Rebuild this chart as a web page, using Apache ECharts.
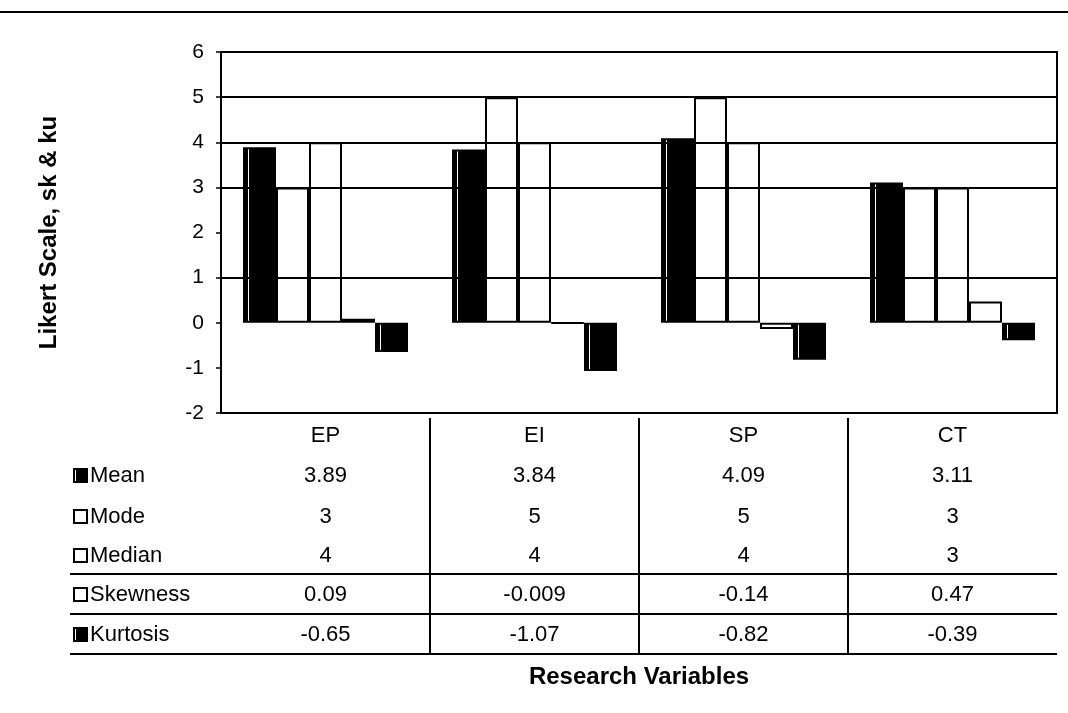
<!DOCTYPE html>
<html>
<head>
<meta charset="utf-8">
<script src="https://cdn.jsdelivr.net/npm/echarts@6/dist/echarts.min.js"></script>
<style>
  html, body { margin: 0; padding: 0; background: #ffffff; }
  #chart { width: 1068px; height: 713px; }
</style>
</head>
<body>
<div id="chart"></div>
<script>
// Research variables and their descriptive statistics
const categories = ['EP', 'EI', 'SP', 'CT'];
const meanValues = [3.89, 3.84, 4.09, 3.11];
const modeValues = [3, 5, 5, 3];
const medianValues = [4, 4, 4, 3];
const skewnessValues = [0.09, -0.009, -0.14, 0.47];
const kurtosisValues = [-0.65, -1.07, -0.82, -0.39];
const seriesNames = ['Mean', 'Mode', 'Median', 'Skewness', 'Kurtosis'];
const gridLineValues = [1, 3, 4, 5];

const FONT = '"Liberation Sans", Arial, Helvetica, sans-serif';
const INK = '#000000';

// Solid black fill with a thin light stripe near the left edge
const darkFill = {
  type: 'linear', x: 0, y: 0, x2: 1, y2: 0,
  colorStops: [
    { offset: 0, color: INK }, { offset: 0.14, color: INK },
    { offset: 0.14, color: '#ffffff' }, { offset: 0.18, color: '#ffffff' },
    { offset: 0.18, color: INK }, { offset: 1, color: INK }
  ]
};
const fills = [darkFill, '#ffffff', '#ffffff', '#ffffff', darkFill];
const valueSets = [meanValues, modeValues, medianValues, skewnessValues, kurtosisValues];

const chart = echarts.init(document.getElementById('chart'), null, { renderer: 'canvas' });

const barSeries = seriesNames.map((name, i) => ({
  name: name,
  type: 'bar',
  data: valueSets[i],
  barWidth: 33,
  barGap: '0%',
  z: 3,
  itemStyle: { color: fills[i], borderColor: INK, borderWidth: 2 }
}));

// Horizontal reference lines kept underneath the bars
const gridLineSeries = {
  name: 'gridlines',
  type: 'line',
  data: categories.map(() => null),
  z: 1,
  silent: true,
  symbol: 'none',
  markLine: {
    silent: true,
    symbol: 'none',
    label: { show: false },
    lineStyle: { color: INK, width: 2, type: 'solid' },
    data: gridLineValues.map(v => ({ yAxis: v }))
  }
};

chart.setOption({
  backgroundColor: '#ffffff',
  animation: false,
  textStyle: { fontFamily: FONT, color: INK },
  grid: {
    left: 221, right: 11, top: 52, bottom: 300,
    show: true, borderColor: INK, borderWidth: 2, backgroundColor: 'transparent'
  },
  xAxis: {
    type: 'category',
    data: categories,
    axisLine: { show: false },
    axisTick: { show: false },
    splitLine: { show: false },
    axisLabel: { fontSize: 22, color: INK, fontFamily: FONT, margin: 12 }
  },
  yAxis: {
    type: 'value',
    min: -2, max: 6, interval: 1,
    name: 'Likert Scale, sk & ku',
    nameLocation: 'middle',
    nameGap: 160,
    nameTextStyle: { fontSize: 24, fontWeight: 'bold', color: INK, fontFamily: FONT },
    axisLine: { show: true, lineStyle: { color: INK, width: 2 } },
    axisTick: { show: true, inside: false, length: 5, lineStyle: { color: INK, width: 1.5 } },
    splitLine: { show: false },
    axisLabel: { fontSize: 21, color: INK, fontFamily: FONT, margin: 17 }
  },
  legend: { show: false },
  series: [gridLineSeries].concat(barSeries)
});

// Data table under the plot, positioned from the category axis
function drawTable() {
  const xs = categories.map((c, i) => chart.convertToPixel({ xAxisIndex: 0 }, i));
  const gridRect = chart.getModel().getComponent('grid').coordinateSystem.getRect();
  const right = gridRect.x + gridRect.width;
  const bottom = gridRect.y + gridRect.height;
  const rowY = [476, 517, 556, 595, 635];
  const ruleY = [574, 614, 654];
  const tableLeft = 70;
  const elements = [];

  // Top rule across the page
  elements.push({ type: 'line', shape: { x1: 0, y1: 12, x2: 1068, y2: 12 },
    style: { stroke: INK, lineWidth: 2 }, silent: true });

  // Column separators between categories
  for (let i = 0; i < xs.length - 1; i++) {
    const x = Math.round((xs[i] + xs[i + 1]) / 2);
    elements.push({ type: 'line', shape: { x1: x, y1: bottom + 5, x2: x, y2: 654 },
      style: { stroke: INK, lineWidth: 2 }, silent: true });
  }
  // Row rules
  ruleY.forEach(y => {
    elements.push({ type: 'line', shape: { x1: tableLeft, y1: y, x2: right, y2: y },
      style: { stroke: INK, lineWidth: 2 }, silent: true });
  });

  // Row keys, names and values
  seriesNames.forEach((name, r) => {
    const y = rowY[r];
    elements.push({ type: 'rect', shape: { x: 74, y: y - 7, width: 13, height: 13 },
      style: { fill: fills[r], stroke: INK, lineWidth: 2 }, silent: true });
    elements.push({ type: 'text', x: 90, y: y,
      style: { text: name, font: '22px ' + FONT, fill: INK, textAlign: 'left', textVerticalAlign: 'middle' },
      silent: true });
    valueSets[r].forEach((v, c) => {
      elements.push({ type: 'text', x: xs[c], y: y,
        style: { text: String(v), font: '22px ' + FONT, fill: INK, textAlign: 'center', textVerticalAlign: 'middle' },
        silent: true });
    });
  });

  // Axis caption below the table
  elements.push({ type: 'text', x: gridRect.x + gridRect.width / 2, y: 677,
    style: { text: 'Research Variables', font: 'bold 24px ' + FONT, fill: INK, textAlign: 'center', textVerticalAlign: 'middle' },
    silent: true });

  chart.setOption({ graphic: { elements: elements } });
}
drawTable();
</script>
</body>
</html>
